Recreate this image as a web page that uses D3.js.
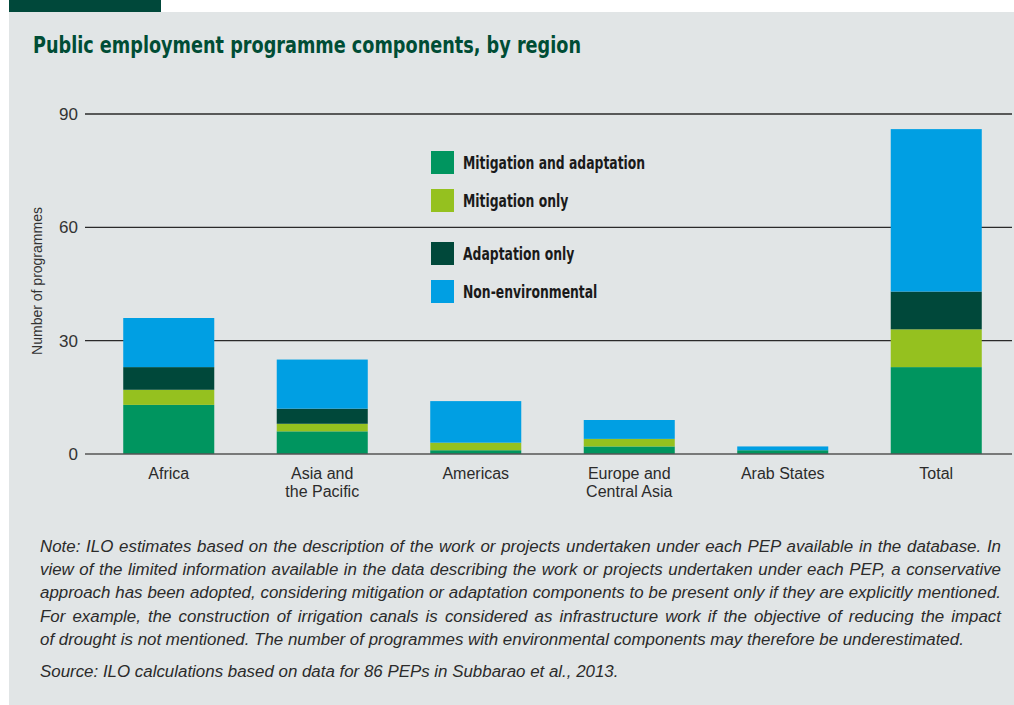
<!DOCTYPE html>
<meta charset="utf-8">
<script src="https://d3js.org/d3.v7.min.js"></script>
<style>
body { margin: 0; background: #fff; }
#chart { position: relative; width: 1014px; height: 705px; }
.note { position: absolute; left: 40px; width: 961px; top: 535px;
  font-family: "Liberation Sans", Arial, sans-serif; font-style: italic;
  font-size: 16.9px; color: #2b2b2b; }
.note div { height: 23.2px; line-height: 23.2px; text-align: justify; text-align-last: justify; white-space: nowrap; }
.note div.last { text-align-last: left; }
</style>

<div id="chart"></div>

<script>
// categories and series (number of programmes)
var regions = ["Africa", "Asia and|the Pacific", "Americas", "Europe and|Central Asia", "Arab States", "Total"];
var mitigationAdaptation = [13, 6, 1, 2, 1, 23];
var mitigationOnly = [4, 2, 2, 2, 0, 10];
var adaptationOnly = [6, 4, 0, 0, 0, 10];
var nonEnvironmental = [13, 13, 11, 5, 1, 43];
var seriesNames = ["Mitigation and adaptation", "Mitigation only", "Adaptation only", "Non-environmental"];
var yTicks = [0, 30, 60, 90];

var colors = ["#00955f", "#95c11f", "#00483a", "#009fe3"];

var W = 1014, H = 705;
var svg = d3.select("#chart").append("svg")
  .attr("width", W).attr("height", H)
  .style("position", "absolute").style("left", 0).style("top", 0);

// grey panel + dark tab
svg.append("rect").attr("x", 9).attr("y", 12).attr("width", W - 9).attr("height", H - 12).attr("fill", "#e1e5e6");
svg.append("rect").attr("x", 9).attr("y", 0).attr("width", 152).attr("height", 12).attr("fill", "#00483a");

svg.append("text")
  .attr("x", 33).attr("y", 53)
  .attr("textLength", 548).attr("lengthAdjust", "spacingAndGlyphs")
  .style("font-family", "'Liberation Sans Narrow', 'DejaVu Sans Condensed', sans-serif")
  .style("font-stretch", "condensed")
  .style("font-weight", "bold").style("font-size", "23px")
  .attr("fill", "#004d35")
  .text("Public employment programme components, by region");

// data table for stacking
var table = regions.map(function(r, i) {
  return { region: r, s0: mitigationAdaptation[i], s1: mitigationOnly[i], s2: adaptationOnly[i], s3: nonEnvironmental[i] };
});
var keys = ["s0", "s1", "s2", "s3"];
var stacked = d3.stack().keys(keys)(table);

var x = d3.scaleBand().domain(regions).range([92, 1013]).paddingInner(0.407).paddingOuter(0.2035);
var y = d3.scaleLinear().domain([0, 90]).range([454, 114]);

// gridlines
svg.append("g").selectAll("line")
  .data(yTicks.filter(function(d) { return d > 0; }))
  .enter().append("line")
    .attr("x1", 85).attr("x2", 1012)
    .attr("y1", function(d) { return y(d); }).attr("y2", function(d) { return y(d); })
    .attr("stroke", "#2a2a2a").attr("stroke-width", 1.4);

// tick labels
svg.append("g").selectAll("text")
  .data(yTicks)
  .enter().append("text")
    .attr("x", 78).attr("y", function(d) { return y(d) + 6; })
    .attr("text-anchor", "end")
    .style("font-family", "'Liberation Sans', Arial, sans-serif").style("font-size", "17px")
    .attr("fill", "#333")
    .text(function(d) { return d; });

svg.append("text")
  .attr("transform", "translate(42,281) rotate(-90)")
  .attr("text-anchor", "middle")
  .style("font-family", "'Liberation Sans', Arial, sans-serif").style("font-size", "14px")
  .attr("fill", "#333")
  .text("Number of programmes");

// bars
svg.append("g").selectAll("g")
  .data(stacked)
  .enter().append("g")
    .attr("fill", function(d, i) { return colors[i]; })
  .selectAll("rect")
  .data(function(d) { return d; })
  .enter().append("rect")
    .attr("x", function(d) { return x(d.data.region); })
    .attr("width", x.bandwidth())
    .attr("y", function(d) { return y(d[1]); })
    .attr("height", function(d) { return y(d[0]) - y(d[1]); });

// zero line
svg.append("line")
  .attr("x1", 85).attr("x2", 1012).attr("y1", y(0)).attr("y2", y(0))
  .attr("stroke", "#555").attr("stroke-width", 1.4);

// category labels
var cat = svg.append("g").selectAll("text")
  .data(regions)
  .enter().append("text")
    .attr("x", function(d) { return x(d) + x.bandwidth() / 2; })
    .attr("y", 479)
    .attr("text-anchor", "middle")
    .style("font-family", "'Liberation Sans', Arial, sans-serif").style("font-size", "16px")
    .attr("fill", "#2b2b2b");
cat.selectAll("tspan")
  .data(function(d) { return d.split("|"); })
  .enter().append("tspan")
    .attr("x", function() { var p = this.parentNode.__data__; return x(p) + x.bandwidth() / 2; })
    .attr("dy", function(d, i) { return i ? 18 : 0; })
    .text(function(d) { return d; });

// legend
var legendY = [151, 189, 242, 280];
var legend = svg.append("g").selectAll("g")
  .data(seriesNames)
  .enter().append("g")
    .attr("transform", function(d, i) { return "translate(431," + legendY[i] + ")"; });
legend.append("rect")
  .attr("width", 23).attr("height", 23)
  .attr("fill", function(d, i) { return colors[i]; });
legend.append("text")
  .attr("transform", "translate(32,18) scale(0.81,1)")
  .style("font-family", "'Liberation Sans Narrow', 'DejaVu Sans Condensed', sans-serif")
  .style("font-stretch", "condensed")
  .style("font-weight", "bold").style("font-size", "17px")
  .attr("fill", "#1a1a1a")
  .text(function(d) { return d; });

// note
var noteLines = [
  "Note: ILO estimates based on the description of the work or projects undertaken under each PEP available in the database. In",
  "view of the limited information available in the data describing the work or projects undertaken under each PEP, a conservative",
  "approach has been adopted, considering mitigation or adaptation components to be present only if they are explicitly mentioned.",
  "For example, the construction of irrigation canals is considered as infrastructure work if the objective of reducing the impact",
  "of drought is not mentioned. The number of programmes with environmental components may therefore be underestimated."
];
var sourceLine = "Source: ILO calculations based on data for 86 PEPs in Subbarao et al., 2013.";

var note = d3.select("#chart").append("div").attr("class", "note");
note.selectAll("div.l")
  .data(noteLines)
  .enter().append("div")
    .attr("class", function(d, i) { return i === noteLines.length - 1 ? "l last" : "l"; })
    .text(function(d) { return d; });
note.append("div").attr("class", "last").style("margin-top", "9px").text(sourceLine);
</script>
